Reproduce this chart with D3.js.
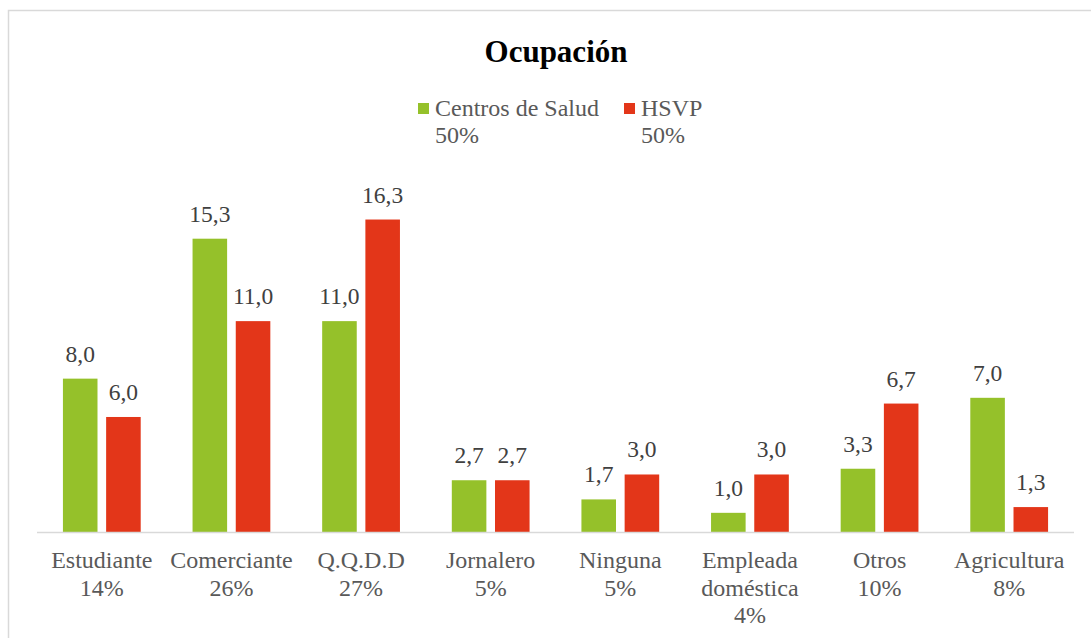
<!DOCTYPE html>
<html>
<head>
<meta charset="utf-8">
<script src="https://cdn.jsdelivr.net/npm/d3@7/dist/d3.min.js"></script>
<style>
  html, body { margin: 0; padding: 0; background: #fff; }
  svg { display: block; }
  text { font-family: "Liberation Serif", "Times New Roman", serif; }
</style>
</head>
<body>
<svg id="chart" width="1091" height="638"></svg>
<script>
const categories = ["Estudiante", "Comerciante", "Q.Q.D.D", "Jornalero", "Ninguna", "Empleada doméstica", "Otros", "Agricultura"];
const categoryLines = [["Estudiante", "14%"], ["Comerciante", "26%"], ["Q.Q.D.D", "27%"], ["Jornalero", "5%"], ["Ninguna", "5%"], ["Empleada", "doméstica", "4%"], ["Otros", "10%"], ["Agricultura", "8%"]];
const seriesNames = ["Centros de Salud", "HSVP"];
const seriesShare = ["50%", "50%"];
const centrosValues = [8.0, 15.3, 11.0, 2.7, 1.7, 1.0, 3.3, 7.0];
const hsvpValues = [6.0, 11.0, 16.3, 2.7, 3.0, 3.0, 6.7, 1.3];
const colors = ["#95c12a", "#e33619"];

const svg = d3.select("#chart");
const textColor = "#595959";

// frame
svg.append("rect").attr("x", 8.5).attr("y", 10.5).attr("width", 1200).attr("height", 700)
  .attr("fill", "none").attr("stroke", "#d9d9d9").attr("stroke-width", 1.5);

const left = 37, right = 1074, baseY = 532;
const x0 = d3.scaleBand().domain(categories).range([left, right]).padding(0);
const bw = x0.bandwidth();
const x1 = d3.scaleBand().domain(seriesNames).range([bw * 0.2, bw * 0.8]).paddingInner(0.2);
const y = d3.scaleLinear().domain([0, 18]).range([baseY, baseY - 18 * 19.17]);

const data = categories.map((c, i) => ({ cat: c, vals: [centrosValues[i], hsvpValues[i]] }));

const groups = svg.selectAll("g.cat").data(data).join("g")
  .attr("class", "cat")
  .attr("transform", d => `translate(${x0(d.cat)},0)`);

groups.selectAll("rect").data(d => d.vals.map((v, j) => ({ s: seriesNames[j], v, j })))
  .join("rect")
  .attr("x", d => x1(d.s))
  .attr("y", d => y(d.v))
  .attr("width", x1.bandwidth())
  .attr("height", d => y(0) - y(d.v))
  .attr("fill", d => colors[d.j]);

groups.selectAll("text.val").data(d => d.vals.map((v, j) => ({ s: seriesNames[j], v, j })))
  .join("text")
  .attr("class", "val")
  .attr("x", d => x1(d.s) + x1.bandwidth() / 2)
  .attr("y", d => y(d.v) - 17)
  .attr("text-anchor", "middle")
  .attr("font-size", 23.5)
  .attr("fill", "#404040")
  .text(d => d3.format(".1f")(d.v).replace(".", ","));

// axis line
svg.append("line").attr("x1", left).attr("x2", right).attr("y1", baseY + 0.5).attr("y2", baseY + 0.5)
  .attr("stroke", "#d9d9d9").attr("stroke-width", 1.5);

// category labels
categories.forEach((c, i) => {
  const t = svg.append("text")
    .attr("x", x0(c) + bw / 2)
    .attr("y", 568)
    .attr("text-anchor", "middle")
    .attr("font-size", 24)
    .attr("fill", textColor);
  categoryLines[i].forEach((line, k) => {
    t.append("tspan").attr("x", x0(c) + bw / 2).attr("y", 568 + k * 27.5).text(line);
  });
});

// title
svg.append("text").attr("x", 556).attr("y", 62).attr("text-anchor", "middle")
  .attr("font-size", 31).attr("font-weight", "bold").attr("fill", "#000").text("Ocupación");

// legend
const legendX = [418, 624];
seriesNames.forEach((s, j) => {
  svg.append("rect").attr("x", legendX[j]).attr("y", 103).attr("width", 11).attr("height", 11).attr("fill", colors[j]);
  svg.append("text").attr("x", legendX[j] + 17).attr("y", 116).attr("font-size", 24).attr("fill", textColor).text(s);
  svg.append("text").attr("x", legendX[j] + 17).attr("y", 143).attr("font-size", 24).attr("fill", textColor).text(seriesShare[j]);
});
</script>
</body>
</html>
